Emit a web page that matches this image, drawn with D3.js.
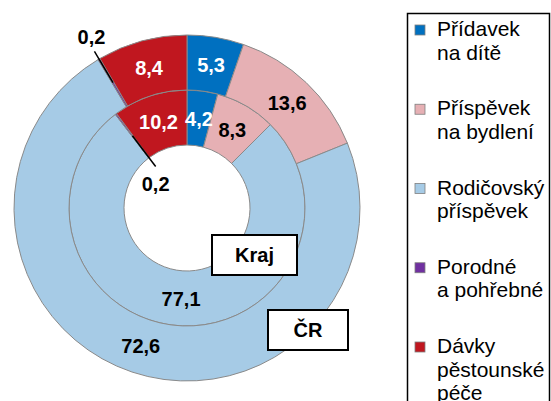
<!DOCTYPE html>
<html>
<head>
<meta charset="utf-8">
<script src="https://cdn.jsdelivr.net/npm/d3@7"></script>
<style>
	body { margin: 0; background: #fff; }
	svg { display: block; font-family: "Liberation Sans", Arial, sans-serif; }
</style>
</head>
<body>
<svg class="chart" width="551" height="401"></svg>
<script>
var categories = ["Přídavek na dítě", "Příspěvek na bydlení", "Rodičovský příspěvek", "Porodné a pohřebné", "Dávky pěstounské péče"];
var legendLines = [["Přídavek", "na dítě"], ["Příspěvek", "na bydlení"], ["Rodičovský", "příspěvek"], ["Porodné", "a pohřebné"], ["Dávky", "pěstounské", "péče"]];
var colors = ["#0070c0", "#e6b0b4", "#a6cbe6", "#7030a0", "#c0171f"];
var labelColors = ["#fff", "#000", "#000", "#000", "#fff"];
var valuesCR = [5.3, 13.6, 72.6, 0.2, 8.4];
var valuesKraj = [4.2, 8.3, 77.1, 0.2, 10.2];
var ringNames = ["Kraj", "ČR"];

var cx = 187, cy = 208;
var hole = 63, ringWidth = 55;

var chart = d3.select('.chart');
var g = chart.append('g').attr('transform', 'translate(' + cx + ',' + cy + ')');

var pie = d3.pie().sort(null).value(function(d){ return d; });
var fmt = function(v){ return String(v).replace('.', ','); };

function drawRing(values, inner, outer, leader){
	var arc = d3.arc().innerRadius(inner).outerRadius(outer);
	var mid = (inner + outer) / 2;
	var labelArc = d3.arc().innerRadius(mid).outerRadius(mid);
	var arcs = pie(values);
	var ring = g.append('g');

	ring.selectAll('path')
		.data(arcs)
		.enter().append('path')
		.attr('d', arc)
		.attr('fill', function(d, i){ return colors[i]; })
		.attr('stroke', '#8a8a8a')
		.attr('stroke-width', 1);

	arcs.forEach(function(d, i){
		var c = labelArc.centroid(d);
		if(d.data < 1){
			// small slice: radial leader line and label beside it
			var a = (d.startAngle + d.endAngle) / 2;
			var ex = Math.sin(a) * leader.r, ey = -Math.cos(a) * leader.r;
			ring.append('line')
				.attr('x1', c[0]).attr('y1', c[1])
				.attr('x2', ex).attr('y2', ey)
				.attr('stroke', '#000')
				.attr('stroke-width', 1.5);
			ring.append('text')
				.attr('x', ex + leader.dx)
				.attr('y', ey + leader.dy)
				.attr('text-anchor', 'middle')
				.attr('font-size', 20)
				.attr('font-weight', 'bold')
				.attr('fill', '#000')
				.text(fmt(d.data));
		}else{
			ring.append('text')
				.attr('x', c[0])
				.attr('y', c[1])
				.attr('dy', '0.36em')
				.attr('text-anchor', 'middle')
				.attr('font-size', 20)
				.attr('font-weight', 'bold')
				.attr('fill', labelColors[i])
				.text(fmt(d.data));
		}
	});
}

drawRing(valuesKraj, hole, hole + ringWidth, {r: 52, dx: 0, dy: 24});
drawRing(valuesCR, hole + ringWidth, hole + 2 * ringWidth, {r: 182, dx: -3, dy: -7});

// ring name boxes
var boxes = [{name: ringNames[0], x: 212, y: 235, w: 85, h: 40}, {name: ringNames[1], x: 268, y: 310, w: 80, h: 40}];
boxes.forEach(function(b){
	chart.append('rect')
		.attr('x', b.x).attr('y', b.y)
		.attr('width', b.w).attr('height', b.h)
		.attr('fill', '#fff')
		.attr('stroke', '#000')
		.attr('stroke-width', 2);
	chart.append('text')
		.attr('x', b.x + b.w / 2)
		.attr('y', b.y + b.h / 2)
		.attr('dy', '0.36em')
		.attr('text-anchor', 'middle')
		.attr('font-size', 20)
		.attr('font-weight', 'bold')
		.text(b.name);
});

// legend
var legend = chart.append('g');
legend.append('rect')
	.attr('x', 407.5).attr('y', 13.5)
	.attr('width', 142).attr('height', 400)
	.attr('fill', '#fff')
	.attr('stroke', '#000')
	.attr('stroke-width', 1.5);

var ly = d3.scalePoint().domain(categories).range([30, 347]);
categories.forEach(function(c, i){
	var y = ly(c);
	legend.append('rect')
		.attr('x', 415).attr('y', y - 5)
		.attr('width', 10).attr('height', 10)
		.attr('fill', colors[i])
		.attr('stroke', '#7f7f7f')
		.attr('stroke-width', 0.8);
	var t = legend.append('text')
		.attr('x', 437)
		.attr('y', y + 6)
		.attr('font-size', 21)
		.attr('fill', '#000');
	legendLines[i].forEach(function(line, j){
		t.append('tspan')
			.attr('x', 437)
			.attr('dy', j === 0 ? 0 : 23.5)
			.text(line);
	});
});
</script>
</body>
</html>
